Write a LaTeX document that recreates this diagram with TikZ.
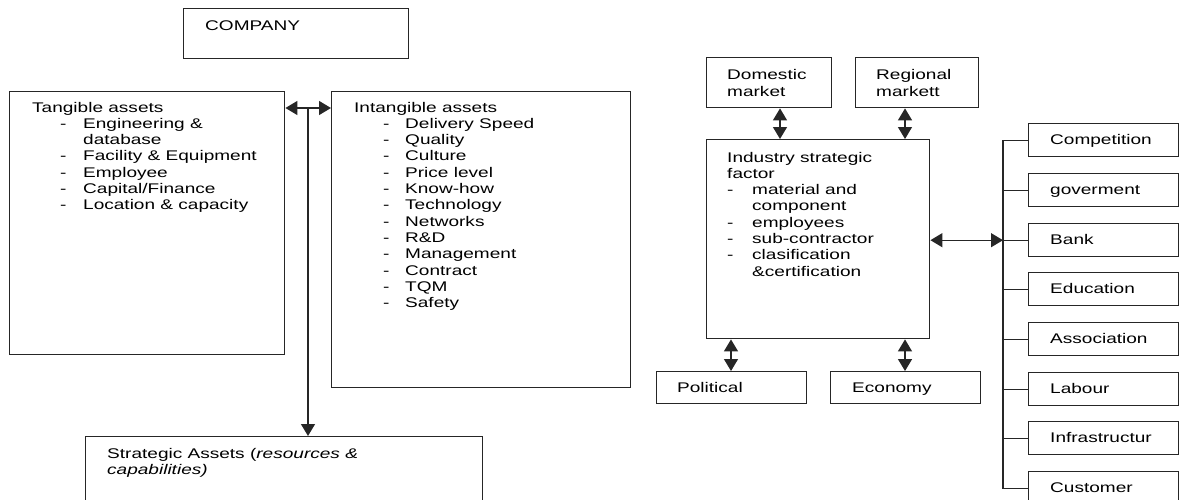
\documentclass[tikz,border=0pt]{standalone}
\usepackage{fontspec}
\setmainfont{Liberation Sans}[FakeStretch=1.36]
\usetikzlibrary{arrows.meta}
\newcommand{\fs}{\fontsize{14}{16.3}\selectfont}
\begin{document}
\begin{tikzpicture}[x=1pt,y=-1pt,
 box/.style={draw=black!85, line width=1.4pt, anchor=north west, inner sep=0pt},
 txt/.style={anchor=base west, inner sep=0pt, font=\fs, text=black},
 con/.style={draw=black!85, line width=1.4pt},
 dbl/.style={con, {Triangle[length=12pt,width=14pt]}-{Triangle[length=12pt,width=14pt]}},
 arr/.style={con, -{Triangle[length=12pt,width=14pt]}},
]
\useasboundingbox (0,0) rectangle (1182,499);
\clip (0,0) rectangle (1182,499);

% boxes
\node[box, minimum width=225pt, minimum height=50pt] (company) at (183,8) {};
\node[box, minimum width=275pt, minimum height=263pt] (tang) at (9,91) {};
\node[box, minimum width=299pt, minimum height=296pt] (intang) at (331,91) {};
\node[box, minimum width=397pt, minimum height=100pt] (strat) at (85,436) {};
\node[box, minimum width=125pt, minimum height=50pt] (dom) at (706,57) {};
\node[box, minimum width=123pt, minimum height=50pt] (reg) at (855,57) {};
\node[box, minimum width=223pt, minimum height=199pt] (ind) at (706,139) {};
\node[box, minimum width=150pt, minimum height=32pt] (pol) at (656,371) {};
\node[box, minimum width=150pt, minimum height=32pt] (eco) at (830,371) {};

% texts
\node[txt] (tcompany) at (205,30) {COMPANY};
\node[txt] (ttang) at (32,112) {\begin{tabular}[t]{@{}p{28pt}@{}p{23pt}@{}l@{}}
\multicolumn{3}{@{}l@{}}{Tangible assets}\\
 & - & Engineering \&\\
 & & database\\
 & - & Facility \& Equipment\\
 & - & Employee\\
 & - & Capital/Finance\\
 & - & Location \& capacity
\end{tabular}};
\node[txt] (tintang) at (354,112) {\begin{tabular}[t]{@{}p{29pt}@{}p{22pt}@{}l@{}}
\multicolumn{3}{@{}l@{}}{Intangible assets}\\
 & - & Delivery Speed\\
 & - & Quality\\
 & - & Culture\\
 & - & Price level\\
 & - & Know-how\\
 & - & Technology\\
 & - & Networks\\
 & - & R\&D\\
 & - & Management\\
 & - & Contract\\
 & - & TQM\\
 & - & Safety
\end{tabular}};
\node[txt] (tstrat) at (107,458) {\begin{tabular}[t]{@{}l@{}}
Strategic Assets (\textit{resources \&}\\
\textit{capabilities)}
\end{tabular}};
\node[txt] (tdom) at (727,79) {\begin{tabular}[t]{@{}l@{}}Domestic\\[1.4pt]market\end{tabular}};
\node[txt] (treg) at (876,79) {\begin{tabular}[t]{@{}l@{}}Regional\\[1.4pt]markett\end{tabular}};
\node[txt] (tind) at (727,162) {\begin{tabular}[t]{@{}p{25pt}@{}l@{}}
\multicolumn{2}{@{}l@{}}{Industry strategic}\\
\multicolumn{2}{@{}l@{}}{factor}\\
- & material and\\
 & component\\
- & employees\\
- & sub-contractor\\
- & clasification\\
 & \&certification
\end{tabular}};
\node[txt] (tpol) at (677,392) {Political};
\node[txt] (teco) at (852,392) {Economy};

% right column
\foreach \t/\y [count=\i] in {Competition/123, goverment/173, Bank/223, Education/272, Association/322, Labour/372, Infrastructur/421, Customer/471} {
  \node[box, minimum width=150pt, minimum height=33pt] (r\i) at (1028,\y) {};
  \node[txt] (rt\i) at (1050,\y+21.5) {\t};
}

% connectors
\coordinate (ja) at (308,108);
\draw[dbl] (tang.east |- ja) -- (intang.west |- ja);
\draw[arr] (ja) -- (ja |- strat.north);
\coordinate (xd) at (780,0);
\coordinate (xr) at (905,0);
\coordinate (xp) at (731,0);
\draw[dbl] (dom.south -| xd) -- (ind.north -| xd);
\draw[dbl] (reg.south -| xr) -- (ind.north -| xr);
\draw[dbl] (ind.south -| xp) -- (pol.north -| xp);
\draw[dbl] (ind.south -| xr) -- (eco.north -| xr);
\coordinate (bt) at (1003,0);
\draw[con] (r1.west) -- (r1.west -| bt) -- (r8.west -| bt) -- (r8.west);
\foreach \i in {2,...,7} \draw[con] (r\i.west) -- (r\i.west -| bt);
\draw[dbl] (ind.east |- r3.west) -- (r3.west -| bt);
\end{tikzpicture}
\end{document}
